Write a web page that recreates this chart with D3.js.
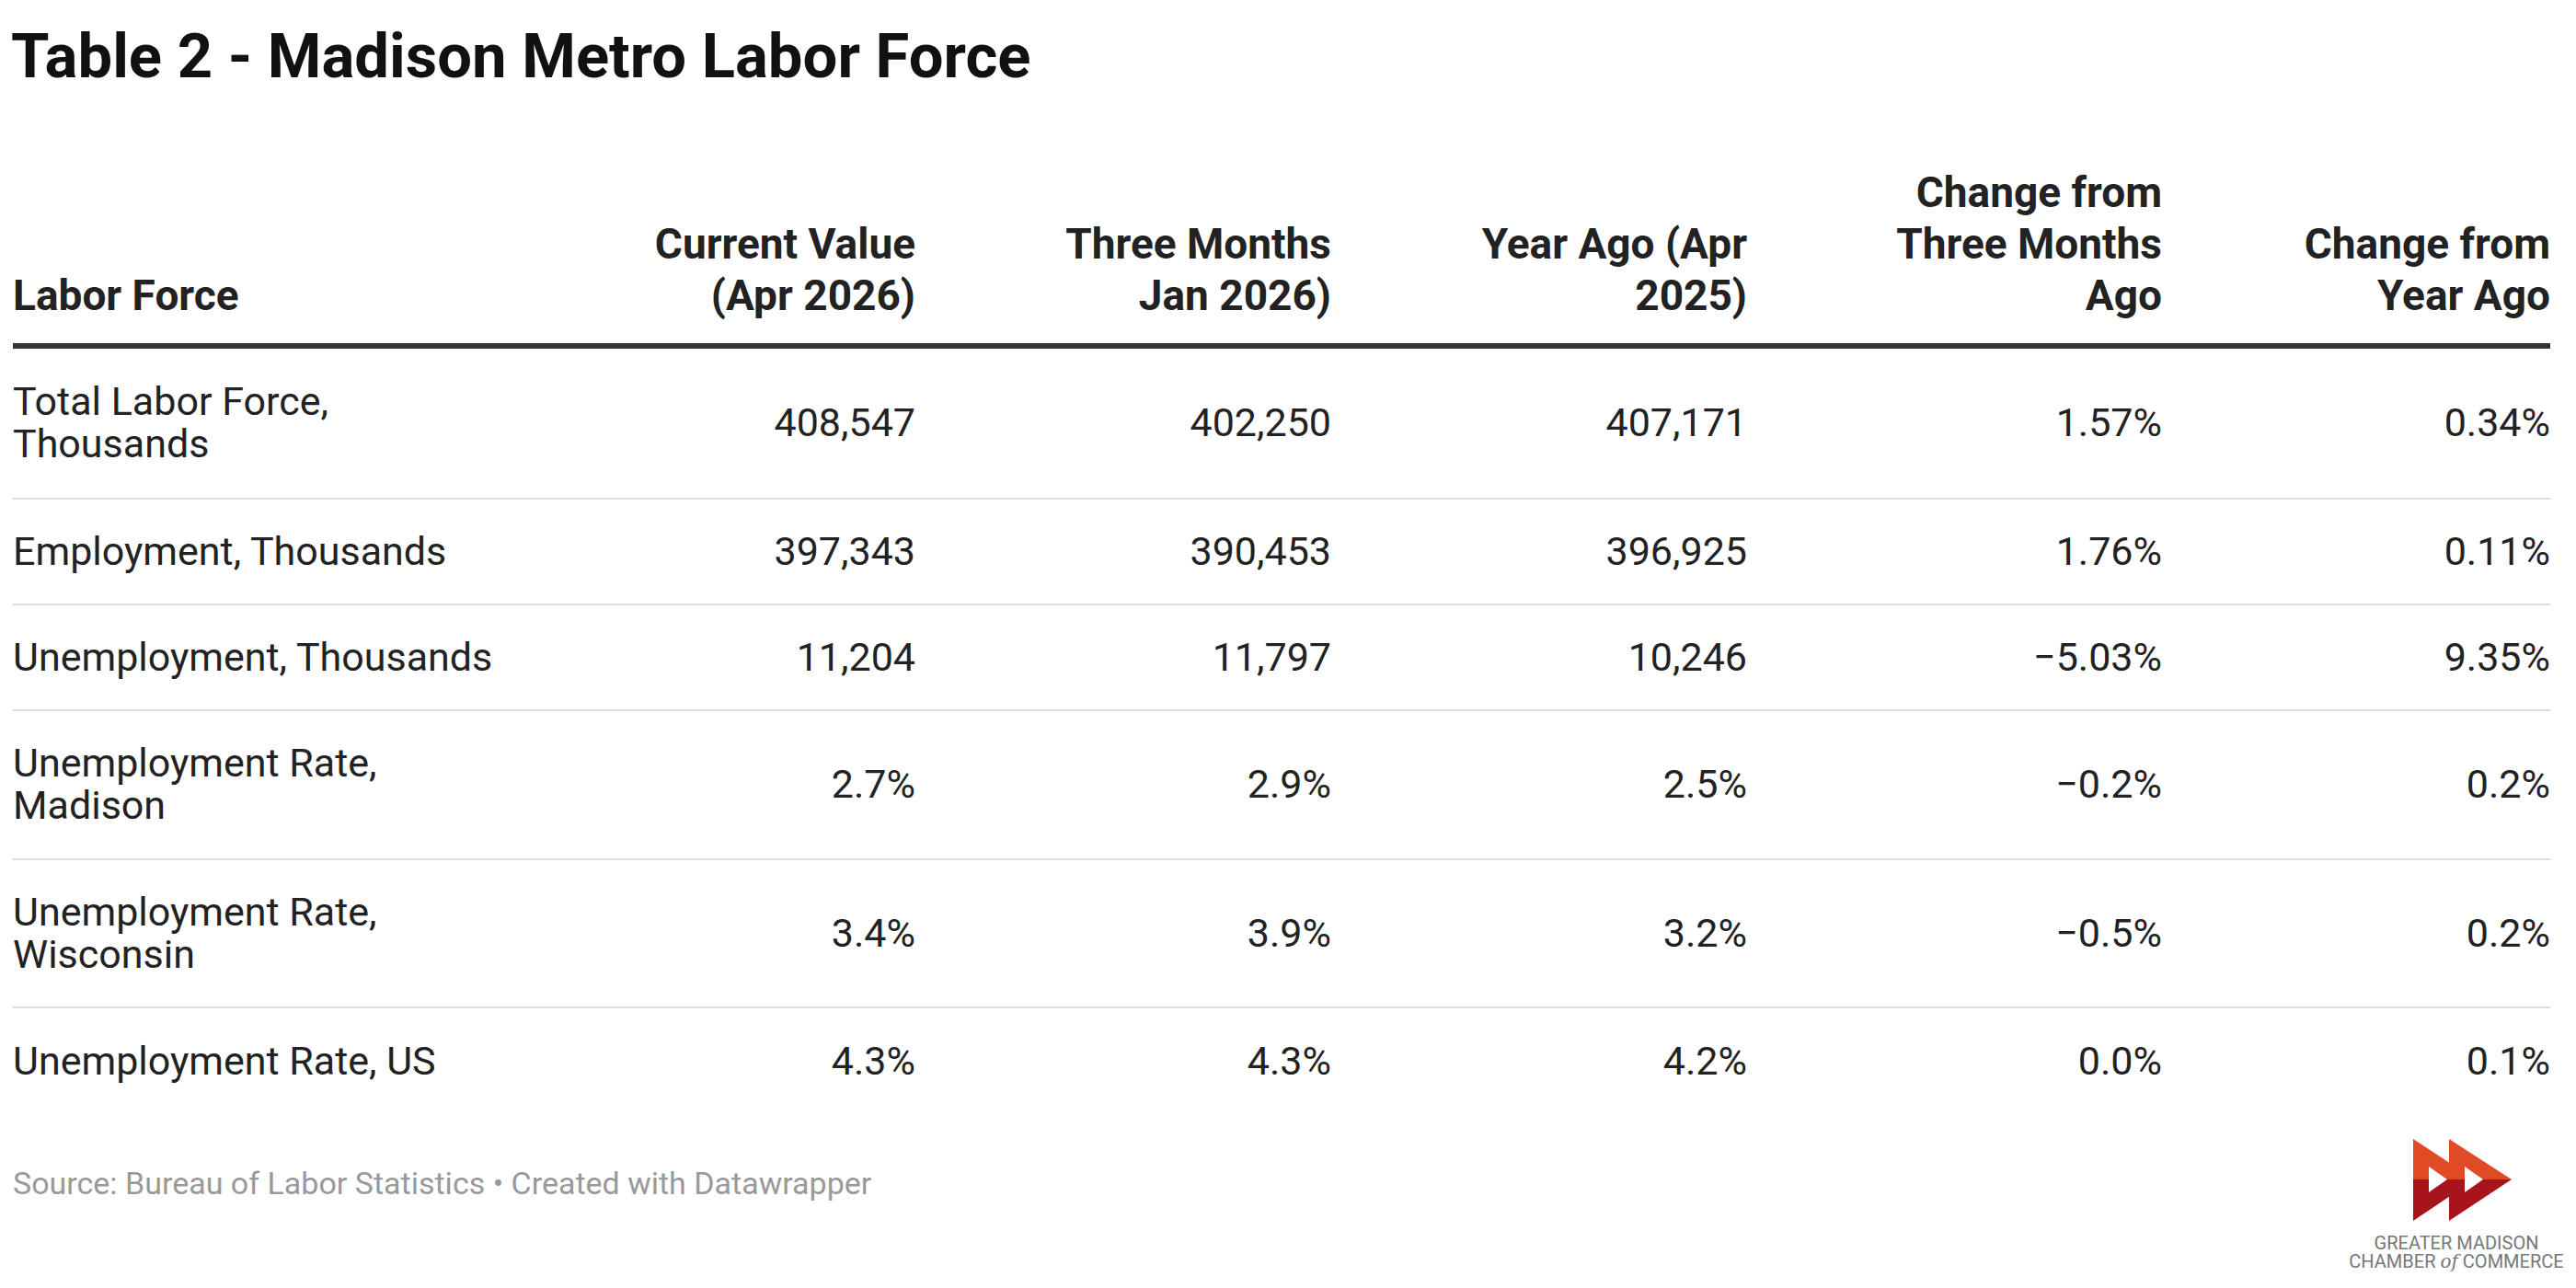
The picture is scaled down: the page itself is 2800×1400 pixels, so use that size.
<!DOCTYPE html>
<html><head><meta charset="utf-8">
<script src="https://cdn.jsdelivr.net/npm/d3@7"></script>
<style>body{margin:0;background:#fff}</style>
</head><body><div id="chart"></div>
<script>
var width = 2800, height = 1400;

var headers = [["Labor Force"], ["Current Value", "(Apr 2026)"], ["Three Months", "Jan 2026)"],
  ["Year Ago (Apr", "2025)"], ["Change from", "Three Months", "Ago"], ["Change from", "Year Ago"]];
var rowLabels = [["Total Labor Force,", "Thousands"], ["Employment, Thousands"], ["Unemployment, Thousands"],
  ["Unemployment Rate,", "Madison"], ["Unemployment Rate,", "Wisconsin"], ["Unemployment Rate, US"]];
var currentValue = ["408,547", "397,343", "11,204", "2.7%", "3.4%", "4.3%"];
var threeMonths = ["402,250", "390,453", "11,797", "2.9%", "3.9%", "4.3%"];
var yearAgo = ["407,171", "396,925", "10,246", "2.5%", "3.2%", "4.2%"];
var changeThree = ["1.57%", "1.76%", "\u22125.03%", "\u22120.2%", "\u22120.5%", "0.0%"];
var changeYear = ["0.34%", "0.11%", "9.35%", "0.2%", "0.2%", "0.1%"];

var columns = [currentValue, threeMonths, yearAgo, changeThree, changeYear];
var colRight = [995, 1447, 1899, 2350, 2772];
var rowEdges = [377, 542, 657, 772, 934, 1095, 1212];

var svg = d3.select('#chart').append('svg').attr('width', width).attr('height', height)
  .style('font-family', 'Roboto, sans-serif');

svg.append('text').attr('x', 12).attr('y', 84).attr('font-size', 67).attr('font-weight', 700)
  .attr('fill', '#111').text('Table 2 - Madison Metro Labor Force');

// header
var hx = [14].concat(colRight);
headers.forEach(function(h, i){
  var t = svg.append('text').attr('font-size', 46).attr('font-weight', 700).attr('fill', '#222')
    .attr('text-anchor', i === 0 ? 'start' : 'end');
  h.forEach(function(line, j){
    t.append('tspan').attr('x', hx[i]).attr('y', 337 - (h.length - 1 - j) * 56).text(line);
  });
});
svg.append('rect').attr('x', 14).attr('y', 373).attr('width', 2758).attr('height', 6).attr('fill', '#333');

// rows
rowLabels.forEach(function(lab, r){
  var mid = (rowEdges[r] + rowEdges[r + 1]) / 2;
  if (r > 0) svg.append('line').attr('x1', 14).attr('x2', 2772)
    .attr('y1', rowEdges[r]).attr('y2', rowEdges[r]).attr('stroke', '#ddd').attr('stroke-width', 2);
  var t = svg.append('text').attr('font-size', 43).attr('fill', '#222');
  lab.forEach(function(line, j){
    t.append('tspan').attr('x', 14).attr('y', mid + 14 + (j - (lab.length - 1) / 2) * 46).text(line);
  });
  columns.forEach(function(col, c){
    svg.append('text').attr('x', colRight[c]).attr('y', mid + 14).attr('text-anchor', 'end')
      .attr('font-size', 43).attr('fill', '#222').text(col[r]);
  });
});

svg.append('text').attr('x', 14).attr('y', 1298).attr('font-size', 34).attr('fill', '#999')
  .text('Source: Bureau of Labor Statistics \u2022 Created with Datawrapper');

// logo
var logo = svg.append('g');
[[2623, 2690], [2662, 2730]].forEach(function(a){
  logo.append('polygon').attr('points', [[a[0],1238],[a[1],1282],[a[0],1282]].join(' ')).attr('fill', '#e04a24');
  logo.append('polygon').attr('points', [[a[0],1282],[a[1],1282],[a[0],1327]].join(' ')).attr('fill', '#a8141b');
  logo.append('polygon').attr('points', [[a[0]+17,1268],[a[0]+37,1282],[a[0]+17,1296]].join(' ')).attr('fill', '#fff');
});
logo.append('text').attr('x', 2670).attr('y', 1358).attr('text-anchor', 'middle').attr('font-size', 20)
  .attr('fill', '#777').text('GREATER MADISON');
var l2 = logo.append('text').attr('x', 2670).attr('y', 1378).attr('text-anchor', 'middle').attr('font-size', 20).attr('fill', '#777');
l2.append('tspan').text('CHAMBER ');
l2.append('tspan').attr('font-style', 'italic').attr('font-family', 'DejaVu Serif, serif').text('of');
l2.append('tspan').text(' COMMERCE');
</script></body></html>
